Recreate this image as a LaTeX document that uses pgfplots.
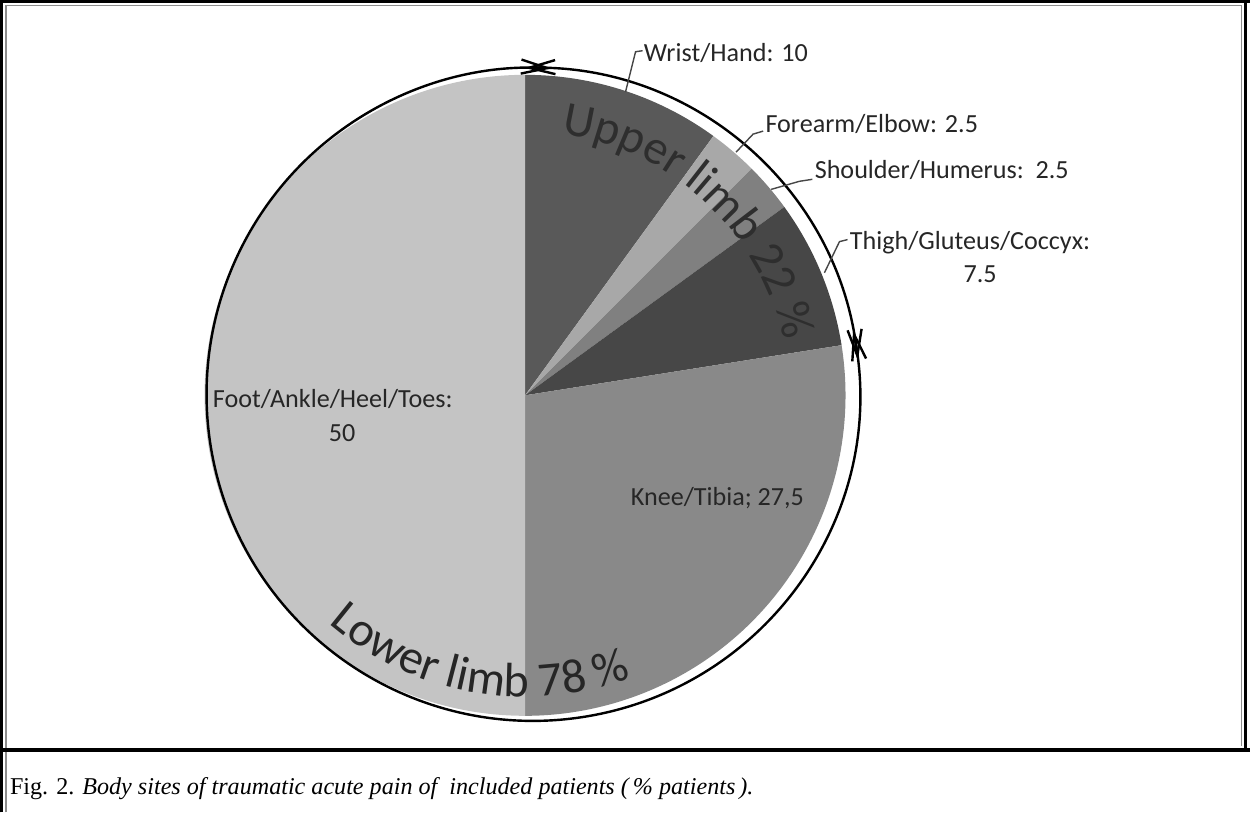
\documentclass[border=0pt]{standalone}
\usepackage{fontspec}
\setmainfont{Carlito}
\newfontfamily\capfont{Liberation Serif}
\usepackage{pgfplots}
\usepackage{pgfplotstable}
\pgfplotsset{compat=1.18}
\usetikzlibrary{decorations.text, arrows.meta}

\definecolor{wristc}{HTML}{595959}
\definecolor{forearmc}{HTML}{A8A8A8}
\definecolor{shoulderc}{HTML}{808080}
\definecolor{thighc}{HTML}{474747}
\definecolor{kneec}{HTML}{898989}
\definecolor{footc}{HTML}{C4C4C4}
\definecolor{labelc}{HTML}{262626}
\definecolor{groupc}{HTML}{2E2E2E}
\definecolor{framegray}{HTML}{8C8C8C}

% share of patients per body site, clockwise from 12 o'clock
\pgfplotstableread{
pct shade
10   wristc
2.5  forearmc
2.5  shoulderc
7.5  thighc
27.5 kneec
50   footc
}\sites

% pie centre and radius in drawing units (1 unit = 0.5bp)
\def\cx{530}\def\cy{415}\def\R{319}
\pgfmathsetmacro\Rbp{\R*0.5}

\begin{document}
\begin{tikzpicture}
\begin{axis}[x=0.5bp, y=0.5bp, xmin=0, xmax=1252, ymin=0, ymax=820,
  scale only axis, hide axis, clip=false]

% frame
\draw[black, line width=1.5bp] (axis cs:9,0) -- (axis cs:9,807) -- (axis cs:1252,807);
\draw[black, line width=1.5bp] (axis cs:1247,807) -- (axis cs:1247,62);
\draw[framegray, line width=0.8bp] (axis cs:13.5,0) -- (axis cs:13.5,803) -- (axis cs:1243,803) -- (axis cs:1243,66);
\draw[black, line width=1.6bp] (axis cs:9,62) -- (axis cs:1252,62);

% pie slices
\xdef\cum{0}
\pgfplotsinvokeforeach{0,...,5}{
  \pgfplotstablegetelem{#1}{pct}\of\sites \let\pct\pgfplotsretval
  \pgfplotstablegetelem{#1}{shade}\of\sites \let\shade\pgfplotsretval
  \pgfmathsetmacro\angA{90-3.6*\cum}
  \pgfmathsetmacro\angB{90-3.6*(\cum+\pct)}
  \edef\slicepath{\noexpand\fill[\shade] (axis cs:\cx,\cy) -- (axis cs:{\cx+\R*cos(\angA)},{\cy+\R*sin(\angA)}) arc[start angle=\angA, end angle=\angB, radius=\Rbp bp] -- cycle;}
  \slicepath
  \pgfmathsetmacro\newcum{\cum+\pct}
  \xdef\cum{\newcum}
}

% group arcs: upper limb and lower limb
\draw[black, line width=1.2bp, {Straight Barb[length=13bp,width=7bp]}-{Straight Barb[length=13bp,width=7bp]}]
  (axis cs:{538+325*cos(91.5)},{416+325*sin(91.5)}) arc[start angle=91.5, end angle=6, radius=162.5bp];
\draw[black, line width=1.2bp, {Straight Barb[length=13bp,width=7bp]}-{Straight Barb[length=13bp,width=7bp]}]
  (axis cs:{538+325*cos(11.4)},{416+325*sin(11.4)}) arc[start angle=11.4, end angle=-273.3, radius=162.5bp];

% curved group captions
\path[decorate, decoration={text along path, text align=center,
  text color=groupc,
  text={|\fontsize{24bp}{28bp}\selectfont|Upper limb 22 {\%}}}]
  (axis cs:{530+263*cos(84)},{415+263*sin(84)}) arc[start angle=84, end angle=10, radius=131.5bp];
\path[decorate, decoration={text along path, text align=center,
  text color=labelc,
  text={|\fontsize{24bp}{28bp}\selectfont|Lower limb 78 {\%}}}]
  (axis cs:{530+300*cos(224)},{415+300*sin(224)}) arc[start angle=224, end angle=296, radius=150bp];

% leader lines
\begin{scope}[labelc!85, line width=0.7bp]
\draw (axis cs:647,758) -- (axis cs:640,757) -- (axis cs:630,717);
\draw (axis cs:767,678) -- (axis cs:757,675) -- (axis cs:740,657);
\draw (axis cs:816,630) -- (axis cs:803,628) -- (axis cs:775,620);
\draw (axis cs:851,570) -- (axis cs:843,568) -- (axis cs:828,537);
\end{scope}

% slice labels
\begin{scope}[every node/.style={inner sep=0pt, text=labelc, font=\fontsize{13bp}{16bp}\selectfont}]
\node[anchor=base west] at (axis cs:648,747) {Wrist/Hand: 10};
\node[anchor=base west] at (axis cs:769,677) {Forearm/Elbow: 2.5};
\node[anchor=base west] at (axis cs:818,631) {Shoulder/Humerus:\ \ 2.5};
\node[anchor=base west] at (axis cs:853,560) {Thigh/Gluteus/Coccyx:};
\node[anchor=base] at (axis cs:983,527) {7.5};
\node[anchor=base east] at (axis cs:808,305) {Knee/Tibia; 27,5};
\node[anchor=base west] at (axis cs:219,403) {Foot/Ankle/Heel/Toes:};
\node[anchor=base] at (axis cs:348,369) {50};
\end{scope}

% figure caption
\node[anchor=base west, inner sep=0pt, font=\capfont\fontsize{12bp}{14bp}\selectfont]
  at (axis cs:17,18) {Fig. 2. \textit{Body sites of traumatic acute pain of\ \ included patients (\,\% patients\,).}};

\end{axis}
\end{tikzpicture}
\end{document}
